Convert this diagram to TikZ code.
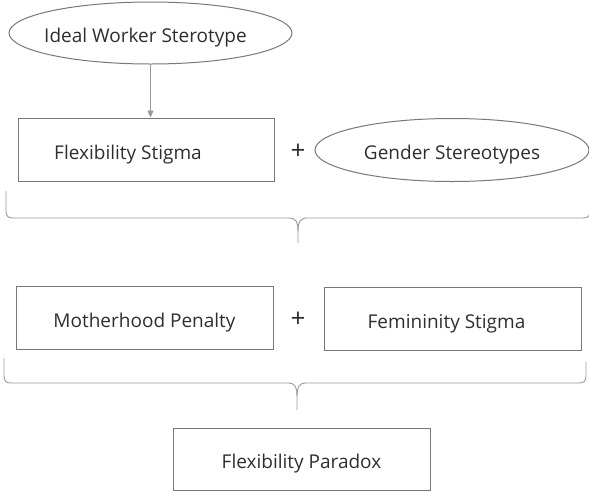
\documentclass[tikz,border=0pt]{standalone}
\usepackage{fontspec}
\setmainfont{Open Sans}
\usetikzlibrary{shapes.geometric,arrows.meta}
\definecolor{linegray}{HTML}{999999}
\definecolor{boxgray}{HTML}{777777}
\definecolor{txtgray}{HTML}{2E2E2E}
\newcommand{\lowtxt}[1]{\raisebox{-5pt}[\height][\depth]{#1}}
\tikzset{
  lbl/.style={text=txtgray,font=\fontsize{19}{22}\selectfont},
  boxnode/.style={draw=boxgray,line width=1pt,rectangle,inner sep=0pt,lbl},
  ellnode/.style={draw=boxgray,line width=1pt,ellipse,inner sep=0pt,lbl},
  bracepath/.style={draw=linegray,line width=0.9pt},
  plusnode/.style={text=txtgray,font=\fontsize{26}{28}\selectfont,inner sep=0pt}
}
\begin{document}
\begin{tikzpicture}[x=1pt,y=-1pt]
\useasboundingbox (0,0) rectangle (589,491);
% row 1
\node[ellnode,minimum width=283pt,minimum height=62pt] (ideal) at (150.5,33) {\hspace*{-10pt}\lowtxt{Ideal Worker Sterotype}};
\node[boxnode,minimum width=256pt,minimum height=63pt] (fs) at (146,149.5) {\hspace*{-36pt}\lowtxt{Flexibility Stigma}};
\node[plusnode] (plus1) at (298,152) {+};
\node[ellnode,minimum width=274pt,minimum height=63pt] (gs) at (452,150) {\lowtxt{Gender Stereotypes}};
\draw[draw=linegray,line width=0.9pt,-{Triangle[length=7pt,width=6pt]}] (ideal.south) -- (ideal.south |- fs.north);
% brace 1
\coordinate (b1l) at (6,191);
\coordinate (b1t) at (298,243);
\coordinate (b1r) at (590,200);
\path[bracepath] (b1l) -- (6,211) .. controls (6,216) and (8,218) .. (13,218) -- (289,218) .. controls (296,218) and (298,222) .. (298,231) -- (b1t);
\path[bracepath] (298,231) .. controls (298,222) and (300,218) .. (307,218) -- (583,218) .. controls (588,218) and (590,216) .. (590,211) -- (b1r);
% row 2
\node[boxnode,minimum width=257pt,minimum height=63pt] (mp) at (144.5,317.5) {\lowtxt{Motherhood Penalty}};
\node[plusnode] (plus2) at (298,320) {+};
\node[boxnode,minimum width=257pt,minimum height=63pt] (fem) at (452.5,318.5) {\hspace*{-12pt}\lowtxt{Femininity Stigma}};
% brace 2
\coordinate (b2l) at (4,358);
\coordinate (b2t) at (297,410);
\coordinate (b2r) at (586,362);
\path[bracepath] (b2l) -- (4,376) .. controls (4,381) and (6,383) .. (11,383) -- (288,383) .. controls (295,383) and (297,387) .. (297,396) -- (b2t);
\path[bracepath] (297,396) .. controls (297,387) and (299,383) .. (306,383) -- (579,383) .. controls (584,383) and (586,381) .. (586,376) -- (b2r);
% result
\node[boxnode,minimum width=257pt,minimum height=62pt] (fp) at (301.5,459) {\lowtxt{Flexibility Paradox}};
\end{tikzpicture}
\end{document}
